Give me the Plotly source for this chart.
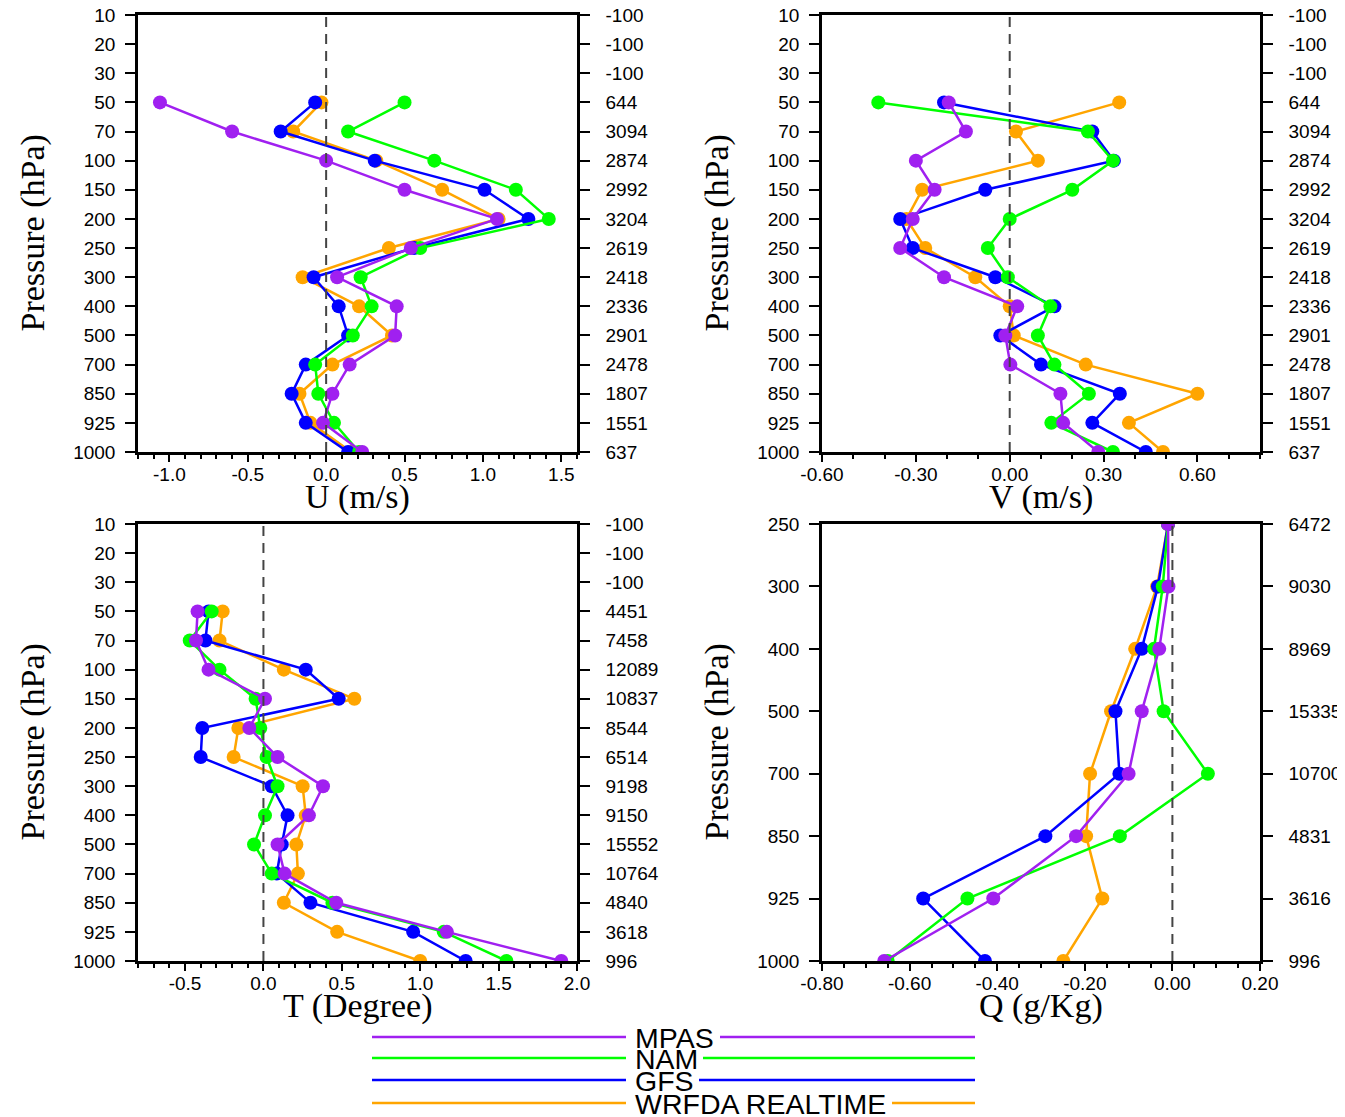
import plotly.graph_objects as go

# pressure levels (hPa)
LEVELS = [10, 20, 30, 50, 70, 100, 150, 200, 250, 300, 400, 500, 700, 850, 925, 1000]
Q_LEVELS = [250, 300, 400, 500, 700, 850, 925, 1000]

NA = [None, None, None]

U_MPAS = NA + [-1.06, -0.60, 0.00, 0.50, 1.09, 0.54, 0.07, 0.45, 0.44, 0.15, 0.04, -0.02, 0.23]
U_NAM = NA + [0.50, 0.14, 0.69, 1.21, 1.42, 0.60, 0.22, 0.29, 0.17, -0.07, -0.05, 0.05, 0.21]
U_GFS = NA + [-0.07, -0.29, 0.31, 1.01, 1.29, 0.56, -0.08, 0.08, 0.14, -0.13, -0.22, -0.13, 0.14]
U_WRFDA = NA + [-0.03, -0.21, 0.32, 0.74, 1.10, 0.40, -0.15, 0.21, 0.42, 0.04, -0.17, -0.10, 0.16]

V_MPAS = NA + [-0.195, -0.14, -0.30, -0.24, -0.31, -0.35, -0.21, 0.024, -0.014, 0.002, 0.162, 0.171, 0.283]
V_NAM = NA + [-0.42, 0.25, 0.33, 0.20, 0.00, -0.07, -0.006, 0.13, 0.09, 0.143, 0.253, 0.133, 0.33]
V_GFS = NA + [-0.21, 0.264, 0.333, -0.078, -0.35, -0.31, -0.046, 0.143, -0.03, 0.10, 0.352, 0.264, 0.435]
V_WRFDA = NA + [0.35, 0.02, 0.09, -0.28, -0.33, -0.27, -0.11, 0.00, 0.013, 0.243, 0.60, 0.381, 0.49]

T_MPAS = NA + [-0.42, -0.43, -0.35, 0.01, -0.09, 0.09, 0.38, 0.29, 0.09, 0.135, 0.465, 1.17, 1.90]
T_NAM = NA + [-0.33, -0.47, -0.28, -0.05, -0.02, 0.02, 0.09, 0.01, -0.06, 0.053, 0.44, 1.15, 1.55]
T_GFS = NA + [-0.35, -0.37, 0.27, 0.48, -0.39, -0.40, 0.053, 0.154, 0.117, 0.085, 0.30, 0.955, 1.29]
T_WRFDA = NA + [-0.26, -0.28, 0.13, 0.58, -0.16, -0.19, 0.25, 0.27, 0.21, 0.22, 0.13, 0.47, 1.00]

Q_MPAS = [-0.01, -0.009, -0.03, -0.07, -0.10, -0.22, -0.409, -0.658]
Q_NAM = [-0.01, -0.022, -0.042, -0.02, 0.081, -0.12, -0.468, -0.65]
Q_GFS = [-0.01, -0.033, -0.07, -0.13, -0.121, -0.29, -0.569, -0.428]
Q_WRFDA = [-0.01, -0.035, -0.085, -0.14, -0.188, -0.197, -0.16, -0.249]

# number of obs (right axis)
U_COUNT = [-100, -100, -100, 644, 3094, 2874, 2992, 3204, 2619, 2418, 2336, 2901, 2478, 1807, 1551, 637]
V_COUNT = U_COUNT
T_COUNT = [-100, -100, -100, 4451, 7458, 12089, 10837, 8544, 6514, 9198, 9150, 15552, 10764, 4840, 3618, 996]
Q_COUNT = [6472, 9030, 8969, 15335, 10700, 4831, 3616, 996]

U_TICKS = [-1.0, -0.5, 0.0, 0.5, 1.0, 1.5]
V_TICKS = [-0.6, -0.3, 0.0, 0.3, 0.6]
T_TICKS = [-0.5, 0.0, 0.5, 1.0, 1.5, 2.0]
Q_TICKS = [-0.8, -0.6, -0.4, -0.2, 0.0, 0.2]

MODELS = ['MPAS', 'NAM', 'GFS', 'WRFDA REALTIME']
COLORS = {'MPAS': '#A020F0', 'NAM': '#00FF00', 'GFS': '#0000FF', 'WRFDA REALTIME': '#FFA500'}
DRAW_ORDER = ['WRFDA REALTIME', 'GFS', 'NAM', 'MPAS']

W, H = 1345, 1117
OFF = 8  # page body margin, positions below are screen pixels
EPS = 1e-6
TICK_FONT = dict(family='Liberation Sans, Arial', size=19, color='black')
TITLE_FONT = dict(family='Liberation Serif, Times New Roman', size=34, color='black')


def px(x):
    return (x - OFF) / W


def py(y):
    return 1 - (y - OFF) / H


panels = [
    dict(levels=LEVELS, data=dict(zip(MODELS, [U_MPAS, U_NAM, U_GFS, U_WRFDA])), count=U_COUNT,
         title='U (m/s)', rng=[-1.2, 1.6], ticks=U_TICKS, minor=0.1, fmt='{:.1f}',
         dx=(138, 577), dy=(15, 452)),
    dict(levels=LEVELS, data=dict(zip(MODELS, [V_MPAS, V_NAM, V_GFS, V_WRFDA])), count=V_COUNT,
         title='V (m/s)', rng=[-0.6, 0.8], ticks=V_TICKS, minor=0.1, fmt='{:.2f}',
         dx=(822, 1260), dy=(15, 452)),
    dict(levels=LEVELS, data=dict(zip(MODELS, [T_MPAS, T_NAM, T_GFS, T_WRFDA])), count=T_COUNT,
         title='T (Degree)', rng=[-0.8, 2.0], ticks=T_TICKS, minor=0.1, fmt='{:.1f}',
         dx=(138, 577), dy=(524, 961)),
    dict(levels=Q_LEVELS, data=dict(zip(MODELS, [Q_MPAS, Q_NAM, Q_GFS, Q_WRFDA])), count=Q_COUNT,
         title='Q (g/Kg)', rng=[-0.8, 0.2], ticks=Q_TICKS, minor=0.05, fmt='{:.2f}',
         dx=(822, 1260), dy=(524, 961)),
]

fig = go.Figure()
layout = {}
shapes = []
annotations = []

for i, p in enumerate(panels):
    n = i + 1
    sfx = '' if n == 1 else str(n)
    xa, ya, yr = 'x' + sfx, 'y' + sfx, 'y' + str(n + 4)
    cats = [str(v) for v in p['levels']]
    nlev = len(cats)

    for m in DRAW_ORDER:
        fig.add_trace(go.Scatter(
            x=p['data'][m], y=cats, xaxis=xa, yaxis=ya, name=m,
            mode='lines+markers', showlegend=False,
            line=dict(color=COLORS[m], width=2.5),
            marker=dict(color=COLORS[m], size=14),
        ))
    # empty trace so the right-hand count axis gets drawn
    fig.add_trace(go.Scatter(x=[None], y=[None], xaxis=xa, yaxis=yr, showlegend=False,
                             hoverinfo='skip'))

    layout['xaxis' + sfx] = dict(
        domain=[px(p['dx'][0]), px(p['dx'][1])], anchor=ya, range=p['rng'], automargin=False,
        tickmode='array', tickvals=p['ticks'], ticktext=[p['fmt'].format(t) for t in p['ticks']],
        ticks='outside', ticklen=7, tickwidth=2, tickcolor='black', ticklabelstandoff=-4,
        minor=dict(ticks='outside', ticklen=4, tickwidth=1.5, dtick=p['minor'], tick0=0, tickcolor='black'),
        showline=True, linewidth=2.5, linecolor='black', mirror=True,
        showgrid=False, zeroline=False, tickfont=TICK_FONT,
    )
    layout['yaxis' + sfx] = dict(
        domain=[py(p['dy'][1]), py(p['dy'][0])], anchor=xa, type='category', automargin=False,
        categoryorder='array', categoryarray=cats, range=[nlev - 1, 0],
        ticks='outside', ticklen=10, tickwidth=2, tickcolor='black',
        showline=True, linewidth=2.5, linecolor='black',
        showgrid=False, zeroline=False, tickfont=TICK_FONT, ticklabelstandoff=6,
    )
    layout['yaxis' + str(n + 4)] = dict(
        overlaying=ya, anchor=xa, side='right', range=[nlev - 1 + EPS, -EPS], automargin=False,
        tickmode='array', tickvals=list(range(nlev)), ticktext=[str(c) for c in p['count']],
        ticks='outside', ticklen=10, tickwidth=2, tickcolor='black', ticklabeloverflow='allow',
        showline=True, linewidth=2.5, linecolor='black',
        showgrid=False, zeroline=False, tickfont=TICK_FONT, ticklabelstandoff=12,
    )
    # dashed zero line
    shapes.append(dict(type='line', xref=xa, yref=ya + ' domain', x0=0, x1=0, y0=0, y1=1,
                       line=dict(color='#444444', width=2, dash='10px,7px')))

    # axis titles
    xc = (p['dx'][0] + p['dx'][1]) / 2
    yc = (p['dy'][0] + p['dy'][1]) / 2
    annotations.append(dict(xref='paper', yref='paper', x=px(xc), y=py(p['dy'][1] + 45),
                            xanchor='center', yanchor='middle', showarrow=False,
                            text=p['title'], font=TITLE_FONT))
    annotations.append(dict(xref='paper', yref='paper', x=px(p['dx'][0] - 106), y=py(yc),
                            xanchor='center', yanchor='middle', showarrow=False, textangle=-90,
                            text='Pressure (hPa)', font=TITLE_FONT))

# legend drawn NCL style: line broken around the label
leg_rows = [1037, 1058, 1080, 1103]
leg_gap_end = [720, 703, 699, 892]
for m, yy, ge in zip(MODELS, leg_rows, leg_gap_end):
    for x0, x1 in [(372, 626), (ge, 975)]:
        shapes.append(dict(type='line', xref='paper', yref='paper', x0=px(x0), x1=px(x1),
                           y0=py(yy), y1=py(yy), line=dict(color=COLORS[m], width=2.5)))
    annotations.append(dict(xref='paper', yref='paper', x=px(633), y=py(yy + 1), xanchor='left',
                            yanchor='middle', showarrow=False, text=m,
                            font=dict(family='Liberation Sans, Arial', size=28.5, color='black')))

fig.update_layout(
    width=W, height=H, margin=dict(l=0, r=0, t=0, b=0, autoexpand=False),
    paper_bgcolor='white', plot_bgcolor='white',
    shapes=shapes, annotations=annotations, **layout,
)

fig.write_html('out.html')
